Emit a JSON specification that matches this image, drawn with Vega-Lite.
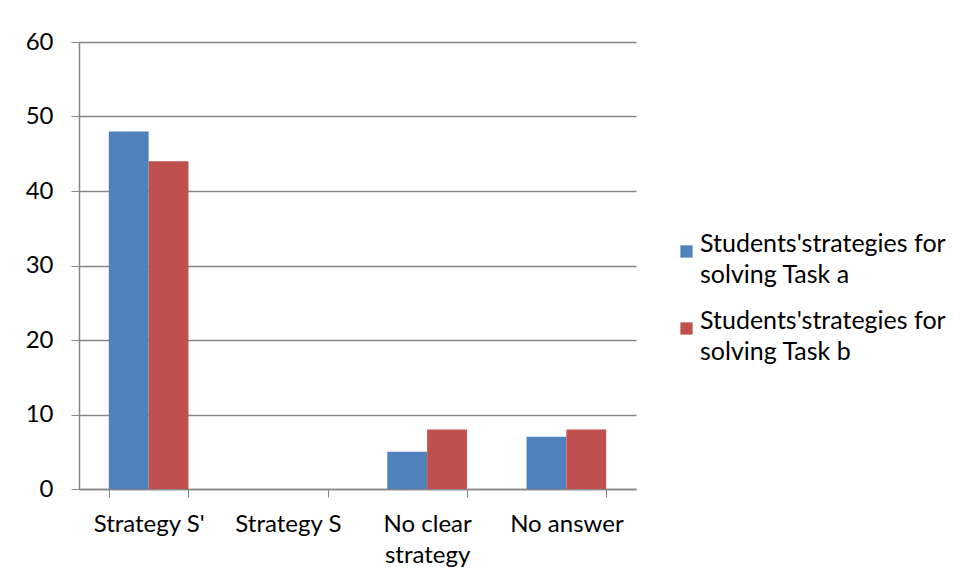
{
  "$schema": "https://vega.github.io/schema/vega-lite/v6.json",
  "autosize": {"type": "none"},
  "padding": {"left": 79, "top": 42, "right": 324, "bottom": 97},
  "width": 557,
  "height": 447,
  "background": "white",
  "config": {
    "view": {"stroke": null},
    "font": "Lato",
    "style": {"guide-label": {"lineHeight": 31}},
    "axis": {"labelFont": "Lato", "labelFontSize": 24, "labelColor": "black", "domainColor": "#868686", "tickColor": "#868686", "gridColor": "#868686"},
    "legend": {"labelFont": "Lato", "labelFontSize": 25, "labelColor": "black"}
  },
  "data": {
    "values": [
      {"category": "Strategy S'", "series": "Students'strategies for solving Task a", "value": 48},
      {"category": "Strategy S'", "series": "Students'strategies for solving Task b", "value": 44},
      {"category": "Strategy S", "series": "Students'strategies for solving Task a", "value": 0},
      {"category": "Strategy S", "series": "Students'strategies for solving Task b", "value": 0},
      {"category": "No clear strategy", "series": "Students'strategies for solving Task a", "value": 5},
      {"category": "No clear strategy", "series": "Students'strategies for solving Task b", "value": 8},
      {"category": "No answer", "series": "Students'strategies for solving Task a", "value": 7},
      {"category": "No answer", "series": "Students'strategies for solving Task b", "value": 8}
    ]
  },
  "mark": {"type": "bar"},
  "encoding": {
    "x": {
      "field": "category",
      "type": "nominal",
      "sort": null,
      "title": null,
      "scale": {"paddingInner": 0.428, "paddingOuter": 0.214},
      "axis": {
        "labelAngle": 0,
        "tickBand": "extent",
        "tickSize": 8,
        "labelPadding": 15,
        "labelLineHeight": 31,
        "labelBaseline": "top",
        "labelExpr": "datum.label == 'No clear strategy' ? ['No clear', 'strategy'] : datum.label",
        "grid": false,
        "domainWidth": 1.5
      }
    },
    "xOffset": {"field": "series", "type": "nominal", "scale": {"paddingInner": 0, "paddingOuter": 0}},
    "y": {
      "field": "value",
      "type": "quantitative",
      "title": null,
      "scale": {"domain": [0, 60], "nice": false},
      "axis": {
        "values": [0, 10, 20, 30, 40, 50, 60],
        "grid": true,
        "gridWidth": 1.5,
        "tickSize": 8,
        "labelPadding": 18,
        "domainWidth": 1.5
      }
    },
    "color": {
      "field": "series",
      "type": "nominal",
      "scale": {"range": ["#4F81BD", "#C0504D"]},
      "legend": {
        "title": null,
        "orient": "none",
        "legendX": 595,
        "legendY": 197,
        "symbolType": "square",
        "symbolSize": 150,
        "symbolStrokeWidth": 0,
        "labelLimit": 400,
        "labelExpr": "[slice(datum.label, 0, 23), slice(datum.label, 24)]",
        "labelBaseline": "alphabetic",
        "labelOffset": 1,
        "rowPadding": 20,
        "labelFontSize": 25
      }
    }
  }
}
